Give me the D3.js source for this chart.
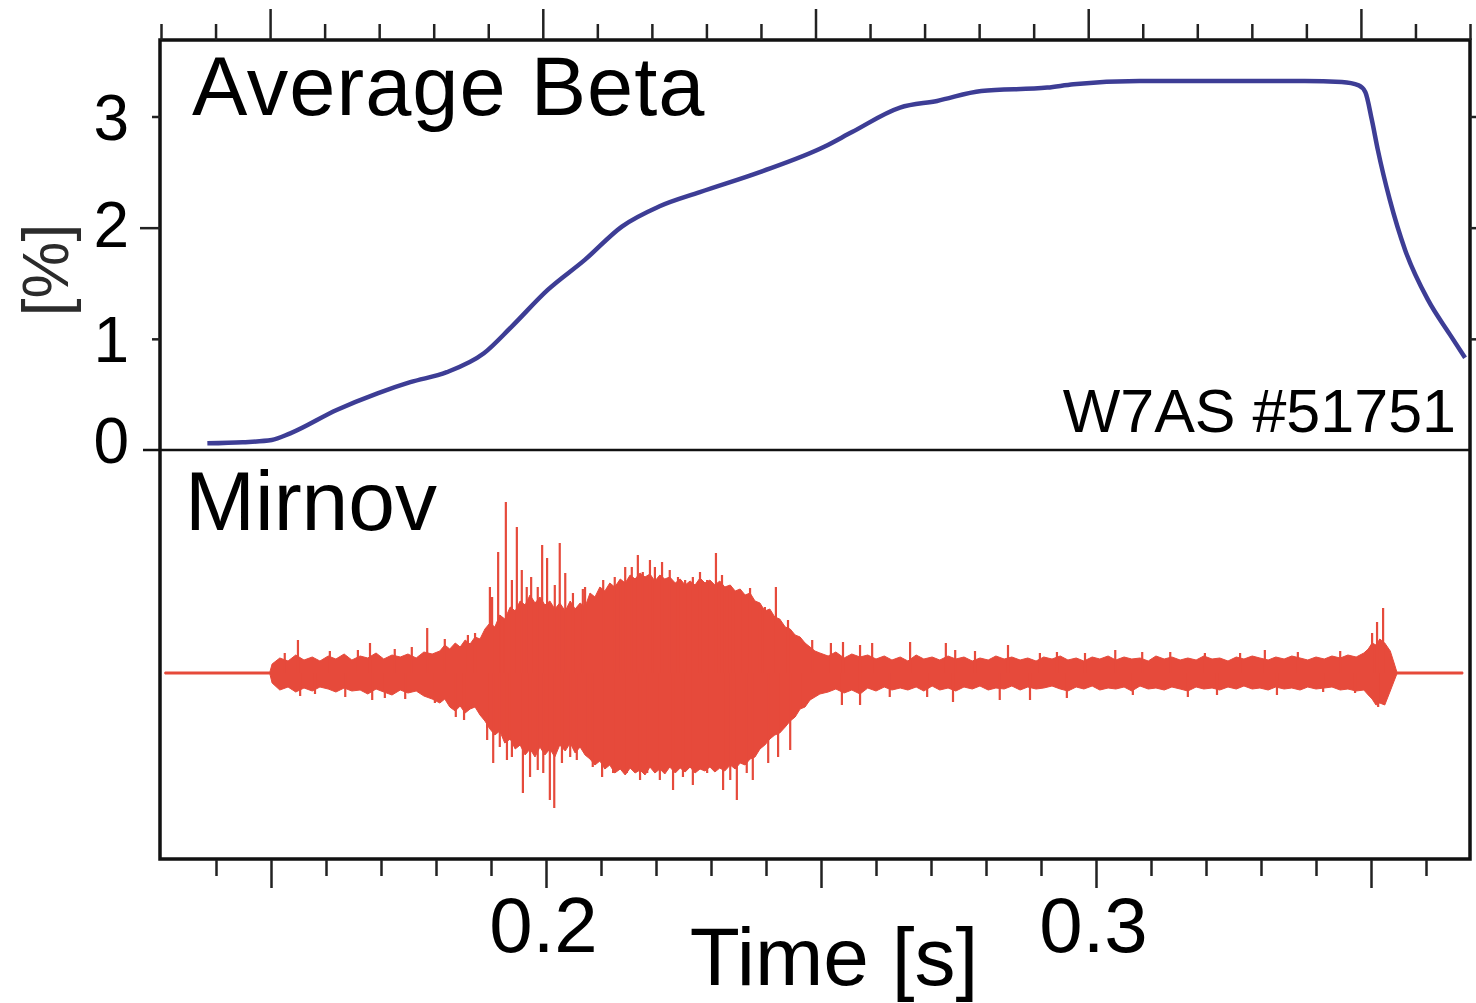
<!DOCTYPE html>
<html>
<head>
<meta charset="utf-8">
<script src="https://cdn.jsdelivr.net/npm/d3@7"></script>
<style>
  body { margin: 0; background: #fff; }
  svg { display: block; font-family: "Liberation Sans", Arial, sans-serif; }
  .tick line { stroke: #222; stroke-width: 2.5; }
  .domain { display: none; }
</style>
</head>
<body>
<svg id="chart"></svg>
<script>
// ---- data ----
// average beta [%] against time [s] (top panel)
const betaTime = [0.1385, 0.1450, 0.1503, 0.1537, 0.1622, 0.1697, 0.1757, 0.1824, 0.1892, 0.1943,
  0.2009, 0.2077, 0.2145, 0.2213, 0.2288, 0.2398, 0.2517, 0.2567, 0.2655, 0.2723,
  0.2804, 0.2925, 0.2973, 0.3094, 0.3263, 0.3397, 0.3465, 0.3496, 0.3508, 0.3520,
  0.3531, 0.3553, 0.3581, 0.3623, 0.3663, 0.3691];
const betaValue = [0.06, 0.07, 0.09, 0.15, 0.36, 0.51, 0.61, 0.70, 0.87, 1.11,
  1.44, 1.71, 2.01, 2.19, 2.32, 2.50, 2.73, 2.86, 3.08, 3.14,
  3.23, 3.26, 3.29, 3.32, 3.32, 3.32, 3.31, 3.28, 3.22, 2.97,
  2.70, 2.25, 1.80, 1.35, 1.04, 0.83];

// Mirnov signal envelope (arbitrary units): upper and lower extent
const mirnovTime = [0.1307, 0.1498,
  // onset of the fluctuations
  0.1502, 0.1516, 0.1531, 0.1545, 0.1560, 0.1575, 0.1589, 0.1604, 0.1618, 0.1633,
  0.1647, 0.1662, 0.1676, 0.1691, 0.1705, 0.1720, 0.1735, 0.1749, 0.1764, 0.1778, 0.1793,
  // large burst
  0.1807, 0.1816, 0.1825, 0.1835, 0.1844, 0.1853, 0.1862, 0.1871, 0.1880, 0.1889,
  0.1898, 0.1907, 0.1916, 0.1925, 0.1935, 0.1944, 0.1953, 0.1962, 0.1971, 0.1980,
  0.1989, 0.1998, 0.2007, 0.2016, 0.2025, 0.2035, 0.2044, 0.2053, 0.2062, 0.2071,
  0.2080, 0.2089, 0.2098, 0.2107, 0.2116, 0.2125, 0.2135, 0.2144, 0.2153, 0.2162,
  0.2171, 0.2180, 0.2189, 0.2198, 0.2207, 0.2216, 0.2225, 0.2235, 0.2244, 0.2253,
  0.2262, 0.2271, 0.2280, 0.2289, 0.2298, 0.2307, 0.2316, 0.2325, 0.2335, 0.2344,
  0.2353, 0.2362, 0.2371, 0.2380, 0.2389, 0.2398, 0.2407, 0.2416, 0.2425, 0.2435,
  0.2444, 0.2453, 0.2462, 0.2471, 0.2480, 0.2489, 0.2498,
  // quieter phase
  0.2513, 0.2527, 0.2542, 0.2556, 0.2571, 0.2585, 0.2600, 0.2615, 0.2629, 0.2644,
  0.2658, 0.2673, 0.2687, 0.2702, 0.2716, 0.2731, 0.2745, 0.2760, 0.2775, 0.2789,
  0.2804, 0.2818, 0.2833, 0.2847, 0.2862, 0.2876, 0.2891, 0.2905, 0.2920, 0.2935,
  0.2949, 0.2964, 0.2978, 0.2993, 0.3007, 0.3022, 0.3036, 0.3051, 0.3065, 0.3080,
  0.3095, 0.3109, 0.3124, 0.3138, 0.3153, 0.3167, 0.3182, 0.3196, 0.3211, 0.3225,
  0.3240, 0.3255, 0.3269, 0.3284, 0.3298, 0.3313, 0.3327, 0.3342, 0.3356, 0.3371,
  0.3385, 0.3400, 0.3415, 0.3429, 0.3444, 0.3458, 0.3473, 0.3487,
  // final burst and end of discharge
  0.3495, 0.3502, 0.3509, 0.3516, 0.3525, 0.3535, 0.3542, 0.3547, 0.3667];
const mirnovUpper = [1, 1,
  9, 15, 12, 18, 13, 16, 12, 17, 14, 19,
  13, 17, 15, 20, 14, 18, 16, 19, 15, 21, 19,
  22, 28, 24, 30, 26, 33, 29, 36, 34, 44,
  50, 46, 58, 54, 66, 62, 72, 68, 78, 70,
  76, 68, 72, 64, 70, 62, 72, 64, 70, 66,
  80, 76, 86, 82, 90, 86, 94, 90, 98, 94,
  100, 96, 99, 92, 98, 94, 96, 90, 94, 88,
  92, 88, 95, 90, 93, 88, 92, 86, 88, 82,
  84, 78, 80, 72, 70, 62, 64, 56, 54, 46,
  44, 38, 36, 30, 26, 22, 20,
  17, 21, 15, 19, 16, 18, 14, 17, 13, 16,
  12, 18, 14, 16, 13, 17, 14, 16, 12, 15,
  13, 17, 14, 16, 13, 15, 12, 16, 14, 17,
  13, 15, 12, 16, 14, 17, 13, 16, 14, 15,
  12, 17, 14, 16, 13, 15, 13, 17, 14, 15,
  12, 16, 14, 17, 15, 13, 16, 14, 17, 15,
  13, 16, 14, 17, 15, 18, 16, 20,
  24, 30, 28, 34, 30, 22, 10, 1, 1];
const mirnovLower = [1, 1,
  10, 17, 14, 19, 15, 18, 14, 16, 19, 15,
  18, 17, 21, 16, 19, 22, 17, 20, 18, 23, 26,
  30, 26, 34, 38, 33, 40, 36, 34, 42, 48,
  56, 62, 58, 70, 66, 76, 72, 82, 76, 84,
  74, 82, 76, 84, 72, 78, 70, 80, 74, 82,
  86, 92, 88, 96, 92, 100, 96, 102, 95, 100,
  97, 102, 94, 100, 96, 101, 94, 100, 95, 99,
  94, 100, 96, 98, 94, 99, 95, 98, 92, 96,
  90, 92, 86, 84, 76, 72, 66, 62, 60, 54,
  48, 44, 36, 34, 27, 24, 21,
  19, 16, 20, 17, 21, 15, 18, 14, 17, 15,
  17, 14, 18, 13, 17, 15, 18, 14, 16, 13,
  17, 15, 16, 13, 17, 14, 16, 15, 13, 16,
  18, 14, 16, 13, 17, 15, 16, 14, 18, 13,
  16, 15, 17, 14, 16, 18, 14, 16, 15, 17,
  14, 16, 13, 16, 15, 17, 14, 16, 15, 17,
  14, 16, 15, 14, 17, 16, 18, 17,
  22, 26, 32, 30, 32, 18, 8, 1, 1];

// single excursions sticking out of the envelope
const spikeTime = [0.1525, 0.1549, 0.1553, 0.1580, 0.1607, 0.1635, 0.1658, 0.1680, 0.1684, 0.1707,
  0.1725, 0.1744, 0.1756, 0.1784, 0.1798, 0.1816, 0.1836, 0.1851, 0.1858, 0.1871,
  0.1893, 0.1898, 0.1904, 0.1913, 0.1927, 0.1929, 0.1938, 0.1947, 0.1956, 0.1958,
  0.1973, 0.1985, 0.1993, 0.2002, 0.2007, 0.2015, 0.2025, 0.2035, 0.2056, 0.2071,
  0.2075, 0.2102, 0.2125, 0.2144, 0.2167, 0.2171, 0.2189, 0.2211, 0.2231, 0.2240,
  0.2267, 0.2280, 0.2309, 0.2320, 0.2322, 0.2347, 0.2371, 0.2376, 0.2418, 0.2422,
  0.2440, 0.2444, 0.2467, 0.2484, 0.2518, 0.2538, 0.2540, 0.2571, 0.2571, 0.2593,
  0.2625, 0.2662, 0.2693, 0.2727, 0.2740, 0.2744, 0.2780, 0.2825, 0.2840, 0.2880,
  0.2898, 0.2929, 0.2947, 0.2980, 0.3035, 0.3067, 0.3084, 0.3135, 0.3167, 0.3198,
  0.3220, 0.3262, 0.3307, 0.3329, 0.3367, 0.3413, 0.3444, 0.3471, 0.3502, 0.3511,
  0.3513, 0.3518, 0.3522,
  // smaller streaks inside the burst
  0.1902, 0.1920, 0.1965, 0.1985, 0.2016, 0.2049, 0.2067, 0.2104, 0.2135, 0.2156,
  0.2176, 0.2198, 0.2225, 0.2253, 0.2267, 0.2293, 0.2329, 0.2340, 0.2353, 0.2389,
  0.2398, 0.1893, 0.1916, 0.1938, 0.1971, 0.1995, 0.2029, 0.2044, 0.2085, 0.2122,
  0.2147, 0.2184, 0.2207, 0.2249, 0.2293, 0.2335, 0.2365, 0.2404];
const spikeValue = [20, 33, -23, -21, 22, -24, 23, 30, -27, -25,
  24, -26, 26, 45, -30, 34, -44, -47, 38, 40,
  -55, 86, -90, 121, 171, -87, 93, 146, 103, -120,
  96, -97, 128, 115, -127, -135, 130, 100, -87, 86,
  -77, -104, 96, 106, 118, -107, 113, 111, -117, 96,
  -112, 101, 120, 98, -117, -127, 85, -107, 86, -84,
  53, -77, -34, 33, 30, -32, 31, 28, -32, 30,
  -24, 31, -24, 30, -29, 23, 22, -27, 28, -27,
  20, 21, -25, 20, 23, -22, 21, 21, -24, 20,
  -22, 20, 23, -22, 21, -19, 22, -20, 40, 51,
  -34, -30, 65,
  76, 56, 86, 86, 88, 80, 84, 93, 93, 106,
  101, 106, 103, 93, 96, 93, 83, 81, 80, 66,
  66, -67, -74, -84, -104, -100, -90, -84, -94, -100,
  -100, -100, -107, -104, -100, -107, -100, -90];

const betaTicks = [0, 1, 2, 3];
const timeTicks = d3.range(13, 38).map(d => d / 100);
const timeLabels = [0.2, 0.3];

// ---- layout ----
const width = 1476;
const height = 1003;
const frame = { left: 160, right: 1470, top: 40, bottom: 859 };
const split = 450;

const svg = d3.select('svg#chart').attr('width', width).attr('height', height);

// top and bottom time axes are not quite aligned in the original figure
const xTop = d3.scaleLinear().domain([0.13, 0.37]).range([161, 1470]);
const xBot = d3.scaleLinear().domain([0.2, 0.3]).range([546, 1096]);
const yBeta = d3.scaleLinear().domain([0, 3]).range([split, 116.5]);
const yMir = d3.scaleLinear().domain([-200, 200]).range([873, 473]);

const isMajor = d => Math.round(d * 100) % 5 === 0;

// Mirnov envelope
const mirnov = mirnovTime.map((t, i) => ({ t: t, hi: mirnovUpper[i], lo: mirnovLower[i] }));
const red = '#e64a3b';
svg.append('path')
  .datum(mirnov)
  .attr('fill', red)
  .attr('stroke', red)
  .attr('stroke-width', 1)
  .attr('d', d3.area()
    .x(d => xBot(d.t))
    .y0(d => yMir(-d.lo))
    .y1(d => yMir(d.hi)));

svg.append('g')
  .selectAll('line')
  .data(spikeTime.map((t, i) => ({ t: t, v: spikeValue[i] })))
  .enter()
  .append('line')
  .attr('x1', d => xBot(d.t))
  .attr('x2', d => xBot(d.t))
  .attr('y1', yMir(0))
  .attr('y2', d => yMir(d.v))
  .attr('stroke', red)
  .attr('stroke-width', 2.2);

// beta curve
svg.append('path')
  .datum(betaTime.map((t, i) => [t, betaValue[i]]))
  .attr('fill', 'none')
  .attr('stroke', '#3d3d95')
  .attr('stroke-width', 4.5)
  .attr('stroke-linejoin', 'round')
  .attr('d', d3.line()
    .x(d => xTop(d[0]))
    .y(d => yBeta(d[1]))
    .curve(d3.curveMonotoneX));

// frame and panel split
svg.append('rect')
  .attr('x', frame.left).attr('y', frame.top)
  .attr('width', frame.right - frame.left)
  .attr('height', frame.bottom - frame.top)
  .attr('fill', 'none')
  .attr('stroke', '#111')
  .attr('stroke-width', 3.5);

svg.append('line')
  .attr('x1', 143).attr('x2', frame.right)
  .attr('y1', split).attr('y2', split)
  .attr('stroke', '#111')
  .attr('stroke-width', 2.5);

// top time axis, ticks only
const topAxis = svg.append('g')
  .attr('transform', 'translate(0,' + frame.top + ')')
  .call(d3.axisTop(xTop).tickValues(timeTicks).tickSize(16).tickFormat(''));
topAxis.selectAll('.tick line').attr('y2', d => isMajor(d) ? -31 : -16);

// bottom time axis
const botAxis = svg.append('g')
  .attr('transform', 'translate(0,' + (frame.bottom + 1) + ')')
  .call(d3.axisBottom(xBot).tickValues(timeTicks.filter(d => d > 0.135 && d < 0.365))
    .tickSize(16).tickFormat(d => timeLabels.some(l => Math.abs(l - d) < 1e-6) ? d3.format('.1f')(d) : ''));
botAxis.selectAll('.tick line').attr('y2', d => isMajor(d) ? 28 : 16);
botAxis.selectAll('.tick text')
  .attr('x', -3)
  .attr('y', 92).attr('dy', 0)
  .attr('font-size', 78)
  .attr('font-family', '"Liberation Sans", Arial, sans-serif')
  .attr('fill', '#000');

// left beta axis
const leftAxis = svg.append('g')
  .attr('transform', 'translate(' + frame.left + ',0)')
  .call(d3.axisLeft(yBeta).tickValues(betaTicks).tickSize(8).tickFormat(d3.format('d')));
leftAxis.selectAll('.tick line').attr('x2', d => d === 2 ? -20 : d === 0 ? 0 : -8);
leftAxis.selectAll('.tick text')
  .attr('x', -31)
  .attr('dy', d => d === 0 ? 12 : d === 2 ? 19 : 23)
  .attr('font-size', 64)
  .attr('font-family', '"Liberation Sans", Arial, sans-serif')
  .attr('fill', '#000');

// small outside ticks on the right
svg.append('g')
  .attr('transform', 'translate(' + frame.right + ',0)')
  .call(d3.axisRight(yBeta).tickValues(betaTicks.filter(d => d > 0)).tickSize(6).tickFormat(''));

// labels
svg.append('text')
  .attr('x', 192).attr('y', 115)
  .attr('font-size', 83)
  .attr('letter-spacing', 1)
  .text('Average Beta');

svg.append('text')
  .attr('x', 185).attr('y', 530)
  .attr('font-size', 84)
  .text('Mirnov');

svg.append('text')
  .attr('x', 1456).attr('y', 432)
  .attr('text-anchor', 'end')
  .attr('font-size', 61)
  .text('W7AS #51751');

svg.append('text')
  .attr('transform', 'translate(68,270) rotate(-90)')
  .attr('text-anchor', 'middle')
  .attr('font-size', 64)
  .attr('fill', '#2b2b2b')
  .text('[%]');

svg.append('text')
  .attr('x', 834).attr('y', 985)
  .attr('text-anchor', 'middle')
  .attr('font-size', 82)
  .text('Time [s]');
</script>
</body>
</html>
